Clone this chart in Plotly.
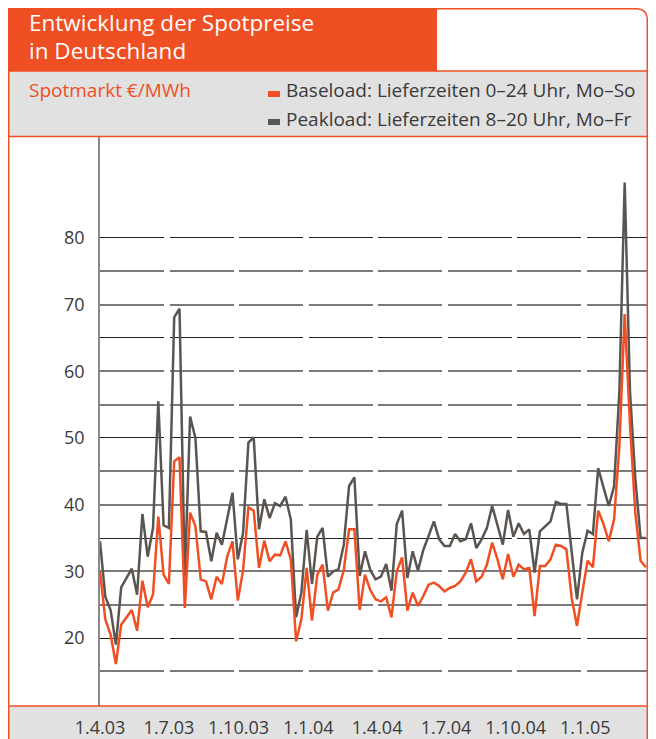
import plotly.graph_objects as go
import pandas as pd

# ---------------- data ----------------
week_start = "2003-04-01"
peakload = [34.5, 26.2, 24.2, 19.0, 27.6, 29.0, 30.4, 26.5, 38.6, 32.2, 36.5, 55.5, 36.9, 36.5, 68.1, 69.4, 29.2, 53.2,
            50.0, 36.0, 35.9, 31.5, 35.8, 34.0, 37.8, 41.8, 31.8, 35.8, 49.3, 50.1, 36.3, 40.8, 38.0, 40.2, 39.8,
            41.2, 37.8, 23.1, 26.8, 36.2, 28.1, 35.2, 36.5, 29.2, 30.0, 30.3, 34.0, 42.8, 44.1, 29.3, 33.0, 30.2,
            28.8, 29.2, 31.1, 27.1, 37.1, 39.1, 29.0, 33.0, 30.1, 33.2, 35.3, 37.5, 34.8, 33.8, 33.8, 35.6, 34.5,
            34.8, 37.2, 33.5, 34.8, 36.5, 39.8, 37.0, 34.0, 39.2, 35.2, 37.2, 35.6, 36.3, 29.8, 36.0, 36.8, 37.5,
            40.4, 40.1, 40.1, 32.8, 25.8, 32.8, 36.1, 35.6, 45.5, 42.6, 39.8, 42.8, 57.0, 88.3, 57.0, 44.0, 35.0, 35.0]
baseload = [30.0, 22.8, 20.5, 16.1, 22.0, 23.1, 24.2, 21.1, 28.6, 24.6, 26.5, 38.2, 29.5, 28.1, 46.5, 47.1, 24.5, 38.8,
            36.8, 28.8, 28.5, 25.8, 29.2, 28.1, 32.2, 34.5, 25.6, 30.2, 39.6, 39.1, 30.5, 34.6, 31.5, 32.5, 32.4,
            34.5, 31.8, 19.5, 22.8, 30.5, 22.6, 29.5, 31.0, 24.1, 26.8, 27.3, 30.2, 36.3, 36.3, 24.2, 29.5, 27.2,
            25.8, 25.5, 26.1, 23.1, 30.0, 32.1, 24.1, 26.8, 24.8, 26.3, 28.0, 28.3, 27.8, 27.0, 27.5, 27.8, 28.5,
            29.8, 31.8, 28.5, 29.2, 31.0, 34.3, 31.8, 28.8, 32.6, 29.2, 31.0, 30.3, 30.5, 23.3, 30.8, 30.8, 31.8,
            34.0, 33.8, 33.3, 26.0, 21.8, 26.8, 31.6, 30.6, 39.1, 37.1, 34.5, 37.8, 48.8, 68.6, 52.0, 38.8, 31.6, 30.6]
x_tick_dates = ["2003-04-01", "2003-07-01", "2003-10-01", "2004-01-01",
                "2004-04-01", "2004-07-01", "2004-10-01", "2005-01-01"]
x_tick_labels = ["1.4.03", "1.7.03", "1.10.03", "1.1.04", "1.4.04", "1.7.04", "1.10.04", "1.1.05"]
y_tick_values = [20, 30, 40, 50, 60, 70, 80]
grid_dark = [20, 35, 50, 65, 80]
grid_light = [15, 25, 30, 40, 45, 55, 60, 70, 75]

title_lines = ["Entwicklung der Spotpreise", "in Deutschland"]
unit_label = "Spotmarkt €/MWh"
legend_labels = ["Baseload: Lieferzeiten 0–24 Uhr, Mo–So", "Peakload: Lieferzeiten 8–20 Uhr, Mo–Fr"]

dates = pd.date_range(week_start, periods=len(peakload), freq="7D")

# ---------------- style ----------------
ORANGE = "#F04E23"
GREY = "#5a5550"
BAND = "#e1e1e1"
TXT = "#3a3a3a"
FONT = "Open Sans"
PAGE_W, PAGE_H = 656, 739
BODY = 8                     # default page body margin
W, H = PAGE_W - BODY, PAGE_H - BODY
# plot area in page pixels
L, R, T, B = 100, 648, 137, 706
y_range = [20 - (B - 638) / 6.667, 20 + (638 - T) / 6.667]
x_range = ["2003-04-01", "2005-03-24 19:00"]


def px(x):
    return (x - L) / (R - L)


def py(y):
    return (B - y) / (B - T)


fig = go.Figure()
# invisible traces to attach the grid axes
fig.add_trace(go.Scatter(x=[dates[0]], y=[None], yaxis="y2", showlegend=False, hoverinfo="skip"))
fig.add_trace(go.Scatter(x=[dates[0]], y=[None], yaxis="y3", showlegend=False, hoverinfo="skip"))
fig.add_trace(go.Scatter(x=dates, y=peakload, mode="lines", line=dict(color=GREY, width=2.5),
                         name=legend_labels[1], showlegend=False))
fig.add_trace(go.Scatter(x=dates, y=baseload, mode="lines", line=dict(color=ORANGE, width=2.5),
                         name=legend_labels[0], showlegend=False))

dash = "64px,5.5px"
fig.update_layout(
    width=W, height=H, autosize=False, template="none",
    margin=dict(l=L - BODY, r=PAGE_W - R, t=T - BODY, b=PAGE_H - B, pad=0),
    paper_bgcolor="white", plot_bgcolor="white",
    font=dict(family=FONT, color=TXT),
    xaxis=dict(type="date", range=x_range, tickvals=x_tick_dates, ticktext=x_tick_labels,
               showgrid=False, zeroline=False, showline=False, ticks="", automargin=False,
               tickfont=dict(size=18, color=TXT, family=FONT), ticklabelstandoff=9),
    yaxis=dict(range=y_range, tickvals=y_tick_values, showgrid=False, zeroline=False,
               showline=True, linecolor="#8a8a8a", linewidth=1.5, ticks="", automargin=False,
               tickfont=dict(size=18, color=TXT, family=FONT), ticklabelstandoff=10),
    yaxis2=dict(range=y_range, overlaying="y", tickvals=grid_dark, showticklabels=False,
                showgrid=True, gridcolor="#222222", gridwidth=1, griddash=dash, zeroline=False,
                automargin=False),
    yaxis3=dict(range=y_range, overlaying="y", tickvals=grid_light, showticklabels=False,
                showgrid=True, gridcolor="#7a7a7a", gridwidth=1.5, griddash=dash, zeroline=False,
                automargin=False),
)

shapes = []


def rect(x0, y0, x1, y1, fill):
    shapes.append(dict(type="rect", xref="paper", yref="paper", x0=px(x0), x1=px(x1), y0=py(y0), y1=py(y1),
                       fillcolor=fill, line=dict(width=0), layer="below"))


def hline(y, x0, x1, color=ORANGE, width=1.5):
    shapes.append(dict(type="line", xref="paper", yref="paper", x0=px(x0), x1=px(x1), y0=py(y), y1=py(y),
                       line=dict(color=color, width=width)))


rect(8, 5, 437, 71, ORANGE)
rect(8, 71, 648, 136, BAND)
rect(8, 706, 648, 739, BAND)
hline(71, 8, 648)
hline(136.5, 8, 648)
hline(706, 8, 648)
border = (f"M {px(8.7)},{py(739)} L {px(8.7)},{py(8.7)} L {px(636)},{py(8.7)} "
          f"Q {px(647.3)},{py(8.7)} {px(647.3)},{py(20)} L {px(647.3)},{py(739)}")
shapes.append(dict(type="path", xref="paper", yref="paper", path=border,
                   line=dict(color=ORANGE, width=1.5)))
# legend swatches
rect(268, 91, 280, 97, ORANGE)
rect(268, 119, 280, 125, GREY)
fig.update_layout(shapes=shapes)

ann = []


def text(t, x, y, size, color):
    ann.append(dict(text=t, xref="paper", yref="paper", x=px(x), y=py(y), xanchor="left", yanchor="middle",
                    showarrow=False, borderpad=0, font=dict(size=size, color=color, family=FONT)))


text(title_lines[0], 28, 23, 22.5, "white")
text(title_lines[1], 28, 51, 22.5, "white")
text(unit_label, 28, 90, 19, ORANGE)
text(legend_labels[0], 285, 90, 19, TXT)
text(legend_labels[1], 285, 119, 19, TXT)
fig.update_layout(annotations=ann)

fig.write_html("out.html")
